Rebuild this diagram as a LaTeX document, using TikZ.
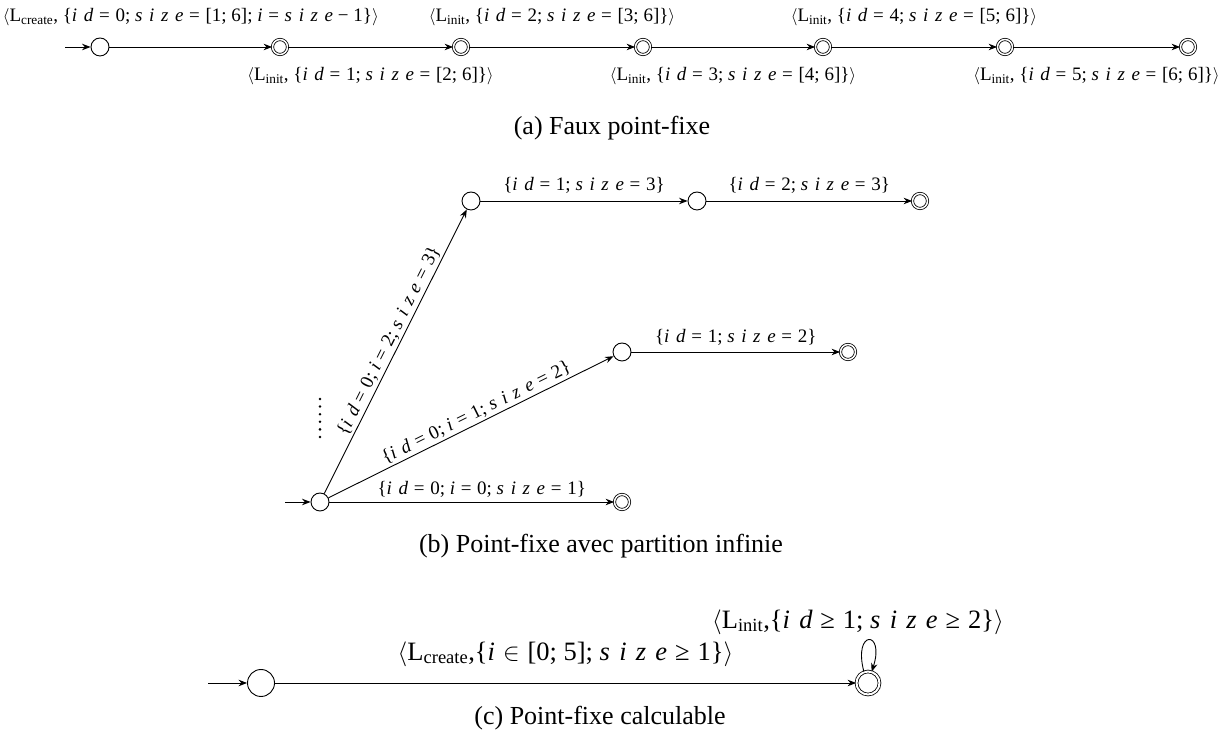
\documentclass[tikz,border=0pt]{standalone}
\usepackage{fontspec}
\setmainfont{Liberation Serif}
\newfontfamily\itfam{Liberation Serif}[LetterSpace=35]
\usetikzlibrary{arrows.meta}
\newcommand\V[1]{{\itfam\itshape #1}}
\newcommand\Eq{\hspace{0.3em}=\hspace{0.3em}}
\newcommand\Ge{\hspace{0.3em}≥\hspace{0.3em}}
\newcommand\Mi{\hspace{0.25em}−\hspace{0.25em}}
\newcommand\In{\hspace{0.3em}$\in$\hspace{0.3em}}
\newcommand\La{$\langle$}
\newcommand\Ra{$\rangle$}
\newcommand\Lc{L\textsubscript{create}}
\newcommand\Li{L\textsubscript{init}}
\begin{document}
\begin{tikzpicture}[x=1pt,y=1pt,
  st/.style={circle, draw, line width=0.9pt, minimum size=18pt, inner sep=0pt},
  acc/.style={circle, draw, line width=0.8pt, double, double distance=1.5pt, minimum size=15pt, inner sep=0pt},
  stc/.style={circle, draw, line width=0.9pt, minimum size=27pt, inner sep=0pt},
  accc/.style={circle, draw, line width=0.8pt, double, double distance=2pt, minimum size=23pt, inner sep=0pt},
  tr/.style={-{Stealth[length=8.5pt,width=6.5pt]}, line width=0.9pt},
  la/.style={font=\fontsize{19}{22}\selectfont, inner sep=0pt},
  lb/.style={font=\fontsize{19}{22}\selectfont, inner sep=1pt},
  lc/.style={font=\fontsize{26.5}{30}\selectfont, inner sep=0pt},
  captext/.style={font=\fontsize{26}{30}\selectfont, inner sep=0pt},
  dotc/.style={circle, fill, inner sep=0pt, minimum size=2.8pt}
]
\useasboundingbox (0,0) rectangle (1226,744);

% ---------- (a) ----------
\node[st]  (a0) at (100,697) {};
\node[acc] (a1) at (280,697) {};
\node[acc] (a2) at (461,697) {};
\node[acc] (a3) at (643,697) {};
\node[acc] (a4) at (823,697) {};
\node[acc] (a5) at (1005,697) {};
\node[acc] (a6) at (1188,697) {};
\coordinate (ai) at (65,697);
\draw[tr] (ai) -- (a0);
\draw[tr] (a0) -- node[la, midway, yshift=30pt] {\La\Lc, \{\V{id}\Eq 0; \V{size}\Eq [1; 6]; \V{i}\Eq\V{size}\Mi 1\}\Ra} (a1);
\draw[tr] (a1) -- node[la, midway, yshift=-29pt] {\La\Li, \{\V{id}\Eq 1; \V{size}\Eq [2; 6]\}\Ra} (a2);
\draw[tr] (a2) -- node[la, midway, yshift=30pt] {\La\Li, \{\V{id}\Eq 2; \V{size}\Eq [3; 6]\}\Ra} (a3);
\draw[tr] (a3) -- node[la, midway, yshift=-29pt] {\La\Li, \{\V{id}\Eq 3; \V{size}\Eq [4; 6]\}\Ra} (a4);
\draw[tr] (a4) -- node[la, midway, yshift=30pt] {\La\Li, \{\V{id}\Eq 4; \V{size}\Eq [5; 6]\}\Ra} (a5);
\draw[tr] (a5) -- node[la, midway, yshift=-29pt] {\La\Li, \{\V{id}\Eq 5; \V{size}\Eq [6; 6]\}\Ra} (a6);
\node[captext] (capa) at (612,616) {(a) Faux point-fixe};

% ---------- (b) ----------
\node[st]  (b0) at (320,242) {};
\node[acc] (b1) at (622,242) {};
\node[st]  (b2) at (622,392) {};
\node[acc] (b3) at (848,392) {};
\node[st]  (b4) at (471,543) {};
\node[st]  (b5) at (697,543) {};
\node[acc] (b6) at (920,543) {};
\coordinate (bi) at (285,242);
\draw[tr] (bi) -- (b0);
\draw[tr] (b0) -- node[lb, midway, yshift=13pt, xshift=10pt] {\{\V{id}\Eq 0; \V{i}\Eq 0; \V{size}\Eq 1\}} (b1);
\draw[tr] (b0) -- node[lb, pos=0.535, sloped, above=1pt] {\{\V{id}\Eq 0; \V{i}\Eq 1; \V{size}\Eq 2\}} (b2);
\draw[tr] (b0) -- node[lb, pos=0.52, sloped, above=1pt] {\{\V{id}\Eq 0; \V{i}\Eq 2; \V{size}\Eq 3\}} (b4);
\draw[tr] (b2) -- node[lb, midway, yshift=15pt] {\{\V{id}\Eq 1; \V{size}\Eq 2\}} (b3);
\draw[tr] (b4) -- node[lb, midway, yshift=16pt] {\{\V{id}\Eq 1; \V{size}\Eq 3\}} (b5);
\draw[tr] (b5) -- node[lb, midway, yshift=16pt] {\{\V{id}\Eq 2; \V{size}\Eq 3\}} (b6);
\foreach \k in {0,...,5} {\node[dotc] (d\k) at (320,345-7.6*\k) {};}
\node[captext] (capb) at (601,198) {(b) Point-fixe avec partition infinie};

% ---------- (c) ----------
\node[stc]  (c0) at (261,61) {};
\node[accc] (c1) at (868,61) {};
\coordinate (ci) at (208,61);
\draw[tr] (ci) -- (c0);
\draw[tr] (c0) -- node[lc, midway, yshift=29pt] {\La\Lc,\{\V{i}\In[0; 5]; \V{size}\Ge 1\}\Ra} (c1);
\draw[tr] (c1.110) .. controls +(105:44) and +(72:44) .. (c1.72);
\node[lc] (lp) at (858,122) {\La\Li,\{\V{id}\Ge 1; \V{size}\Ge 2\}\Ra};
\node[captext] (capc) at (600,26) {(c) Point-fixe calculable};
\end{tikzpicture}
\end{document}
